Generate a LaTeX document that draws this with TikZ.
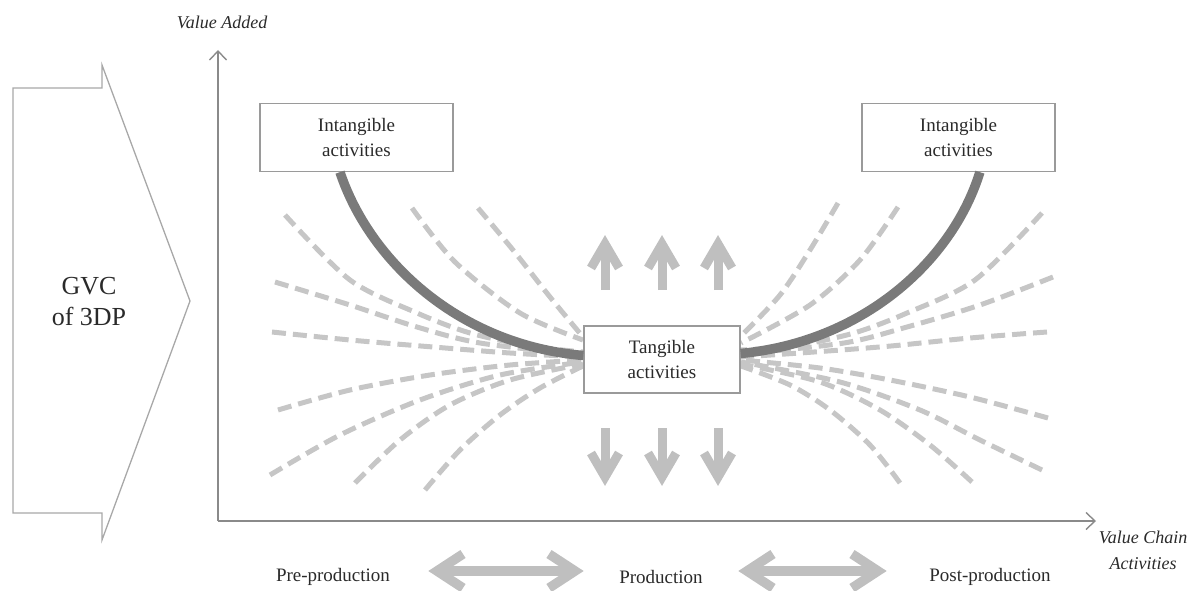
\documentclass[tikz,border=0pt]{standalone}
\usepackage{fontspec}
\setmainfont{Liberation Serif}
\usetikzlibrary{arrows.meta,calc}
\definecolor{axisgray}{HTML}{8A8A8A}
\definecolor{boxgray}{HTML}{9A9A9A}
\definecolor{curvegray}{HTML}{7A7A7A}
\definecolor{dashgray}{HTML}{C6C6C6}
\definecolor{arrgray}{HTML}{BFBFBF}
\definecolor{outlinegray}{HTML}{A8A8A8}
\definecolor{txt}{HTML}{2A2A2A}
\begin{document}
\begin{tikzpicture}[x=1pt,y=-1pt,
  actbox/.style={draw=boxgray,line width=1.3pt,fill=white,minimum height=68pt,
    inner sep=0pt,align=center,font=\fontsize{19}{25}\selectfont,text=txt},
  axisline/.style={axisgray,line width=1.4pt,-{Straight Barb[length=9pt,width=17pt,line width=1.4pt]}},
  dline/.style={dashgray,line width=5pt,dash pattern=on 14pt off 7pt},
  ucurve/.style={curvegray,line width=9.5pt},
  fat/.style={arrgray,line width=9pt,line join=miter},
  fatter/.style={arrgray,line width=9.5pt,line join=miter},
  lbl/.style={font=\fontsize{19}{23}\selectfont,text=txt},
  axlbl/.style={font=\fontsize{18}{26}\selectfont\itshape,text=txt,align=center}]
\useasboundingbox (0,0) rectangle (1200,591);

% left big arrow
\draw[outlinegray,line width=1.3pt,line join=miter] (13,88) -- (102,88) -- (102,65) -- (190,301) -- (102,540) -- (102,513) -- (13,513) -- cycle;
\node[font=\fontsize{26}{31}\selectfont,text=txt,align=center] (gvc) at (89,302) {GVC\\of 3DP};

% axes
\coordinate (O) at (218,521);
\coordinate (ytop) at (218,50);
\coordinate (xend) at (1096,521);
\draw[axisline] (O) -- (ytop);
\draw[axisline] (O) -- (xend);
\node[axlbl] (vadd) at (222,22) {Value Added};
\node[axlbl] (vca) at (1143,550) {Value Chain\\Activities};

% dashed lines, left
\foreach \pts in {
  {(412,208) (455,262) (520,313) (583,340)},
  {(478,208) (513,250) (550,297) (583,337)},
  {(285,215) (350,280) (417,313) (470,333) (530,346) (583,352)},
  {(275,282) (350,305) (417,327) (480,343) (583,355)},
  {(272,332) (350,340) (433,347) (510,353) (583,357)},
  {(278,410) (350,390) (430,375) (510,365) (583,360)},
  {(270,475) (340,435) (420,400) (500,375) (583,362)},
  {(355,483) (400,440) (450,405) (510,380) (583,364)},
  {(425,490) (460,450) (500,415) (540,388) (583,366)}}
  \draw[dline] plot[smooth] coordinates \pts;
% dashed lines, right
\foreach \pts in {
  {(838,203) (810,250) (780,295) (741,336)},
  {(898,207) (860,260) (810,305) (741,343)},
  {(1042,213) (975,280) (907,313) (854,333) (794,346) (741,350)},
  {(1053,277) (980,305) (907,327) (844,343) (741,354)},
  {(1047,332) (970,338) (891,346) (814,352) (741,357)},
  {(1048,418) (970,397) (890,380) (820,368) (741,360)},
  {(1042,470) (980,440) (920,410) (840,382) (741,362)},
  {(972,482) (930,445) (880,410) (820,382) (741,364)},
  {(900,483) (870,445) (830,410) (790,385) (741,366)}}
  \draw[dline] plot[smooth] coordinates \pts;

% boxes
\node[actbox,minimum width=193pt] (lbox) at (356.5,137.5) {Intangible\\activities};
\node[actbox,minimum width=193pt] (rbox) at (958.5,137.5) {Intangible\\activities};
\node[actbox,minimum width=156pt,minimum height=67pt] (tbox) at (662,359.5) {Tangible\\activities};

% thick smile curve
\draw[ucurve] ($(lbox.south west)!0.415!(lbox.south east)$) .. controls (370,262) and (460,345) .. ([yshift=4pt]tbox.west);
\draw[ucurve] ($(rbox.south west)!0.61!(rbox.south east)$) .. controls (952,262) and (862,342) .. ([yshift=6pt]tbox.east);

% up and down arrows
\foreach \x in {605,662,718} {
  \draw[fat] (\x,290) -- (\x,244);
  \draw[fat] (\x-14,268) -- (\x,244) -- (\x+14,268);
  \draw[fat] (\x,428) -- (\x,477);
  \draw[fat] (\x-14,453) -- (\x,477) -- (\x+14,453);
}

% bottom labels and double arrows
\node[lbl] (pre) at (333,577) {Pre-production};
\node[lbl] (prod) at (661,577) {Production};
\node[lbl] (post) at (990,577) {Post-production};
\draw[fatter] (437,571) -- (575,571);
\draw[fatter] (463,554) -- (437,571) -- (463,588);
\draw[fatter] (549,554) -- (575,571) -- (549,588);
\draw[fatter] (747,571) -- (878,571);
\draw[fatter] (773,554) -- (747,571) -- (773,588);
\draw[fatter] (852,554) -- (878,571) -- (852,588);
\end{tikzpicture}
\end{document}
